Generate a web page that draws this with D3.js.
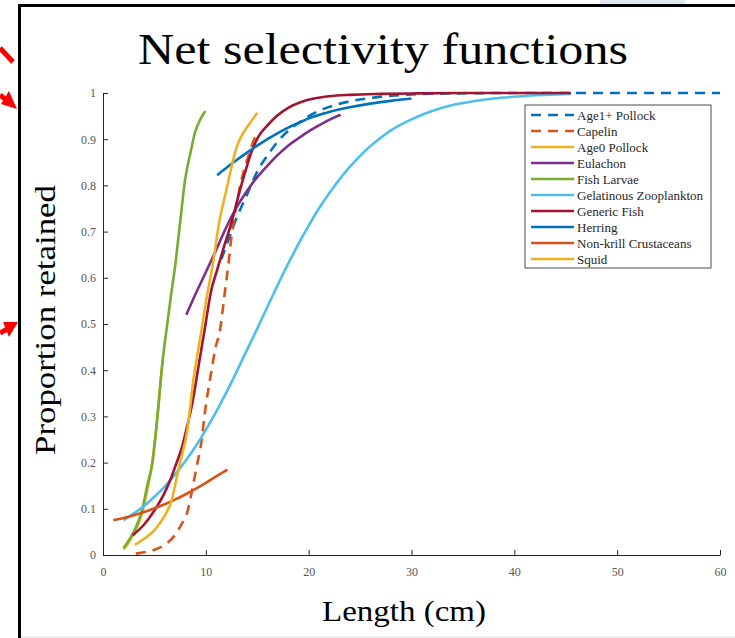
<!DOCTYPE html>
<html>
<head>
<meta charset="utf-8">
<script src="https://cdn.jsdelivr.net/npm/d3@7"></script>
<style>
  body { margin: 0; background: #fff; }
  svg { display: block; }
</style>
</head>
<body>
<div id="chart"></div>
<script>
// Selectivity curves: [length in cm, proportion retained]
const age1Pollock = [[11.5,0.64],[12,0.67],[13,0.73],[14,0.78],[15,0.83],[16,0.865],[17,0.895],[18,0.918],[19,0.935],[20,0.95],[22,0.97],[24,0.982],[26,0.989],[28,0.994],[30,0.997],[34,0.999],[40,1],[50,1],[60,1]];
const capelin = [[3.2,0.003],[4,0.006],[5.1,0.012],[6,0.022],[7,0.043],[7.6,0.065],[8.2,0.093],[8.8,0.156],[9.1,0.19],[9.6,0.25],[9.9,0.307],[10.4,0.379],[10.9,0.444],[11.4,0.49],[11.8,0.56],[12.2,0.63],[12.5,0.69],[13,0.76],[13.5,0.815],[14.1,0.86],[14.6,0.894],[15,0.915]];
const age0Pollock = [[2,0.012],[2.6,0.03],[3.2,0.055],[3.8,0.09],[4.3,0.14],[4.8,0.2],[5.2,0.28],[5.5,0.35],[5.8,0.42]];
const eulachon = [[8.1,0.52],[9,0.565],[10,0.612],[11,0.66],[12,0.71],[13,0.753],[14,0.788],[15,0.818],[16,0.843],[17,0.866],[18,0.886],[19,0.902],[20,0.917],[21,0.93],[22,0.942],[23.1,0.953]];
const fishLarvae = [[2,0.015],[2.6,0.035],[3.2,0.06],[3.8,0.097],[4.3,0.15],[4.8,0.2],[5.3,0.3],[5.7,0.4],[6.25,0.5],[6.6,0.56],[7,0.623],[7.5,0.72],[8,0.815],[8.5,0.87],[8.95,0.915],[9.4,0.94],[9.95,0.961]];
const gelatinous = [[2,0.075],[3,0.09],[4,0.106],[5,0.126],[6,0.148],[7,0.174],[8,0.203],[9,0.235],[10,0.271],[11,0.31],[12,0.352],[13,0.397],[14,0.444],[15,0.49],[16,0.538],[17,0.585],[18,0.63],[19,0.673],[20,0.713],[21,0.75],[22,0.783],[23,0.813],[24,0.84],[25,0.864],[26,0.885],[27,0.903],[28,0.919],[29,0.932],[30,0.943],[32,0.961],[34,0.974],[36,0.982],[38,0.988],[40,0.992],[42,0.995],[44,0.997],[45.5,0.998]];
const genericFish = [[2.9,0.043],[4,0.066],[4.9,0.093],[6,0.135],[6.5,0.16],[7,0.19],[7.7,0.235],[8.2,0.28],[8.7,0.33],[9.3,0.41],[9.9,0.49],[10.5,0.57],[11.1,0.617],[11.8,0.67],[12.5,0.72],[13.2,0.78],[13.8,0.827],[14.4,0.87],[15.1,0.905],[16,0.93],[16.9,0.95],[18,0.968],[19.2,0.98],[20.5,0.988],[22,0.993],[24,0.996],[27,0.998],[30,0.999],[35,1],[40,1],[45.5,1]];
const herring = [[11.1,0.822],[12,0.838],[13,0.855],[14,0.871],[15,0.886],[16,0.9],[17,0.913],[18,0.925],[19,0.935],[20,0.945],[22,0.959],[24,0.969],[26,0.977],[28,0.983],[30,0.988]];
const nonKrill = [[1,0.075],[2,0.08],[3,0.086],[4,0.093],[5,0.101],[6,0.11],[7,0.12],[8,0.131],[9,0.143],[10,0.156],[11,0.17],[12.1,0.185]];
const squid = [[3.1,0.022],[4,0.035],[5.1,0.056],[6,0.085],[6.7,0.12],[7.1,0.16],[7.5,0.2],[8.2,0.27],[8.8,0.38],[9.6,0.49],[10.1,0.56],[10.7,0.632],[11.3,0.72],[12,0.79],[12.5,0.84],[13,0.883],[13.6,0.912],[14.3,0.935],[15,0.957]];

const seriesNames = ["Age1+ Pollock", "Capelin", "Age0 Pollock", "Eulachon", "Fish Larvae",
  "Gelatinous Zooplankton", "Generic Fish", "Herring", "Non-krill Crustaceans", "Squid"];
const seriesValues = [age1Pollock, capelin, age0Pollock, eulachon, fishLarvae,
  gelatinous, genericFish, herring, nonKrill, squid];

const xTicks = [0, 10, 20, 30, 40, 50, 60];
const yTicks = [0, 0.1, 0.2, 0.3, 0.4, 0.5, 0.6, 0.7, 0.8, 0.9, 1];
const yTickLabels = ["0", "0.1", "0.2", "0.3", "0.4", "0.5", "0.6", "0.7", "0.8", "0.9", "1"];

// MATLAB default colour order, dashed for the first two
const colors = ["#0072BD", "#D95319", "#EDB120", "#7E2F8E", "#77AC30",
  "#4DBEEE", "#A2142F", "#0072BD", "#D95319", "#EDB120"];
const dashes = ["10,7", "10,7", null, null, null, null, null, null, null, null];

const W = 735, H = 638;
const svg = d3.select("#chart").append("svg")
  .attr("width", W)
  .attr("height", H)
  .style("font-family", "'Liberation Serif', 'Times New Roman', serif");

svg.append("rect").attr("width", W).attr("height", H).attr("fill", "#fff");

// slide frame
svg.append("rect").attr("x", 600).attr("y", 0).attr("width", 85).attr("height", 4).attr("fill", "#dfe6ee");
svg.append("rect").attr("x", 19).attr("y", 636).attr("width", W - 19).attr("height", 2).attr("fill", "#ececec");
svg.append("path")
  .attr("d", "M19.5,638 V5.5 H735")
  .attr("fill", "none")
  .attr("stroke", "#000")
  .attr("stroke-width", 3);

// red annotation arrows at the left edge
const red = "#ff0000";
svg.append("line").attr("x1", 0).attr("y1", 48).attr("x2", 13).attr("y2", 62)
  .attr("stroke", red).attr("stroke-width", 5);
svg.append("line").attr("x1", 0).attr("y1", 95).attr("x2", 10).attr("y2", 103)
  .attr("stroke", red).attr("stroke-width", 5);
svg.append("polygon").attr("points", "17,109 9,91 1,104").attr("fill", red);
svg.append("line").attr("x1", 0).attr("y1", 333).attr("x2", 9).attr("y2", 328)
  .attr("stroke", red).attr("stroke-width", 5);
svg.append("polygon").attr("points", "18,322 3,322 9,337").attr("fill", red);

// scales
const x = d3.scaleLinear().domain([0, 60]).range([103, 720]);
const y = d3.scaleLinear().domain([0, 1]).range([555, 93]);

// axes (ticks pointing inward, MATLAB style)
const gx = svg.append("g")
  .attr("transform", `translate(0,${y(0)})`)
  .call(d3.axisBottom(x).tickValues(xTicks).tickSizeInner(-5).tickSizeOuter(0).tickPadding(12));
const gy = svg.append("g")
  .attr("transform", `translate(${x(0)},0)`)
  .call(d3.axisLeft(y).tickValues(yTicks).tickFormat((d, i) => yTickLabels[i])
    .tickSizeInner(-5).tickSizeOuter(0).tickPadding(7));
[gx, gy].forEach(g => {
  g.select(".domain").attr("stroke", "#262626").attr("stroke-width", 1);
  g.selectAll(".tick line").attr("stroke", "#262626");
  g.selectAll(".tick text")
    .attr("fill", "#555")
    .style("font-family", "'Liberation Serif', serif")
    .style("font-size", "12px");
});

// curves
const line = d3.line()
  .x(d => x(d[0]))
  .y(d => y(d[1]))
  .curve(d3.curveMonotoneX);

svg.append("g").selectAll("path")
  .data(seriesValues)
  .join("path")
    .attr("d", line)
    .attr("fill", "none")
    .attr("stroke", (d, i) => colors[i])
    .attr("stroke-width", 2.6)
    .attr("stroke-dasharray", (d, i) => dashes[i])
    .attr("stroke-linejoin", "round");

// legend
const legend = svg.append("g").attr("transform", "translate(525,105)");
legend.append("rect")
  .attr("width", 186).attr("height", 163)
  .attr("fill", "#fff").attr("stroke", "#222").attr("stroke-width", 0.8);
const rows = legend.selectAll("g.row")
  .data(seriesNames)
  .join("g")
    .attr("class", "row")
    .attr("transform", (d, i) => `translate(0,${10 + i * 16})`);
rows.append("line")
  .attr("x1", 6).attr("x2", 49)
  .attr("stroke", (d, i) => colors[i])
  .attr("stroke-width", 2.6)
  .attr("stroke-dasharray", (d, i) => dashes[i]);
rows.append("text")
  .attr("x", 52).attr("dy", "0.35em")
  .attr("fill", "#262626")
  .style("font-size", "13px")
  .text(d => d);

// titles
svg.append("text")
  .attr("x", 383).attr("y", 64)
  .attr("text-anchor", "middle")
  .attr("textLength", 490)
  .attr("lengthAdjust", "spacingAndGlyphs")
  .style("font-size", "45px")
  .text("Net selectivity functions");
svg.append("text")
  .attr("x", 404).attr("y", 621)
  .attr("text-anchor", "middle")
  .attr("textLength", 164)
  .attr("lengthAdjust", "spacingAndGlyphs")
  .style("font-size", "30px")
  .text("Length (cm)");
svg.append("text")
  .attr("transform", "translate(55,320) rotate(-90)")
  .attr("text-anchor", "middle")
  .attr("textLength", 270)
  .attr("lengthAdjust", "spacingAndGlyphs")
  .style("font-size", "30px")
  .text("Proportion retained");
</script>
</body>
</html>
